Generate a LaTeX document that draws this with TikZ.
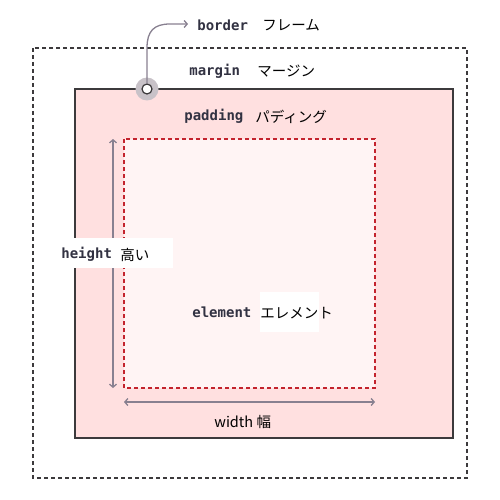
\documentclass[tikz,border=0pt]{standalone}
\usepackage{fontspec}
\setmonofont{DejaVu Sans Mono}
\newfontfamily\jpfont{Noto Sans CJK JP}
\usetikzlibrary{arrows.meta}

\definecolor{boxpink}{RGB}{255,224,224}
\definecolor{elempink}{RGB}{255,244,244}
\definecolor{padred}{RGB}{195,35,45}
\definecolor{edgegray}{RGB}{60,58,60}
\definecolor{dimgray}{RGB}{136,128,144}
\definecolor{halogray}{RGB}{200,194,200}
\definecolor{codeink}{RGB}{50,50,66}

\tikzset{every picture/.style={line width=0.75pt}}
\tikzset{
  codelabel/.style={anchor=west,inner sep=0pt,font=\ttfamily\bfseries\fontsize{14}{16}\selectfont,text=codeink},
  jplabel/.style={anchor=west,inner sep=0pt,font=\jpfont\fontsize{14.5}{17}\selectfont,text=black},
  dimline/.style={color=dimgray,line width=1.3,{Straight Barb[length=3pt,width=7pt]}-{Straight Barb[length=3pt,width=7pt]}}
}

\begin{document}
\begin{tikzpicture}[x=1pt,y=1pt,yscale=-1,xscale=1]
\useasboundingbox (0,0) rectangle (500,500);

%Dashed margin box
\draw [color=edgegray,dash pattern=on 4pt off 3pt,line width=1.5] (33,48) rectangle (467,478);
%Border box
\draw [fill=boxpink,draw=edgegray,line width=1.8] (75,89) rectangle (453,438);
%Element box
\draw [fill=elempink,draw=padred,dash pattern=on 4pt off 3pt,line width=1.5] (124,139) rectangle (375,388);

%Dimension lines
\coordinate (htop) at (113,139);
\coordinate (hbot) at (113,388);
\coordinate (wleft) at (124,402);
\coordinate (wright) at (375,402);
\draw [dimline] (htop) -- (hbot);
\draw [dimline] (wleft) -- (wright);

%Border marker
\fill [halogray] (147,89) circle (11.5);
\node (corner) [circle,draw=edgegray,fill=white,line width=1.2,minimum size=10,inner sep=0pt] at (147,89) {};
\coordinate (bordertip) at (188,24);
\draw [color=dimgray,line width=1.3,-{Straight Barb[length=3pt,width=7pt]}] (corner.north) -- (147,48) .. controls (147,31) and (154,24) .. (170,24) -- (bordertip);

%White label backs
\fill [white] (58,238) rectangle (173,268);
\fill [white] (260,292) rectangle (319,332);

% Text Node
\node (bordercode) [codelabel] at (197,25) {border};
\node (borderjp) [jplabel] at (262,25) {フレーム};
% Text Node
\node (margincode) [codelabel] at (189,71) {margin};
\node (marginjp) [jplabel] at (257,71) {マージン};
% Text Node
\node (paddingcode) [codelabel] at (184,116) {padding};
\node (paddingjp) [jplabel] at (255,117) {パディング};
% Text Node
\node (heightcode) [codelabel] at (61,254) {height};
\node (heightjp) [jplabel] at (120,255) {高い};
% Text Node
\node (elementcode) [codelabel] at (192,312) {element};
\node (elementjp) [jplabel] at (260,313) {エレメント};
% Text Node
\node (widthlabel) [anchor=west,inner sep=0pt,font=\jpfont\fontsize{14.5}{17}\selectfont] at (214,422) {width 幅};
\end{tikzpicture}
\end{document}
